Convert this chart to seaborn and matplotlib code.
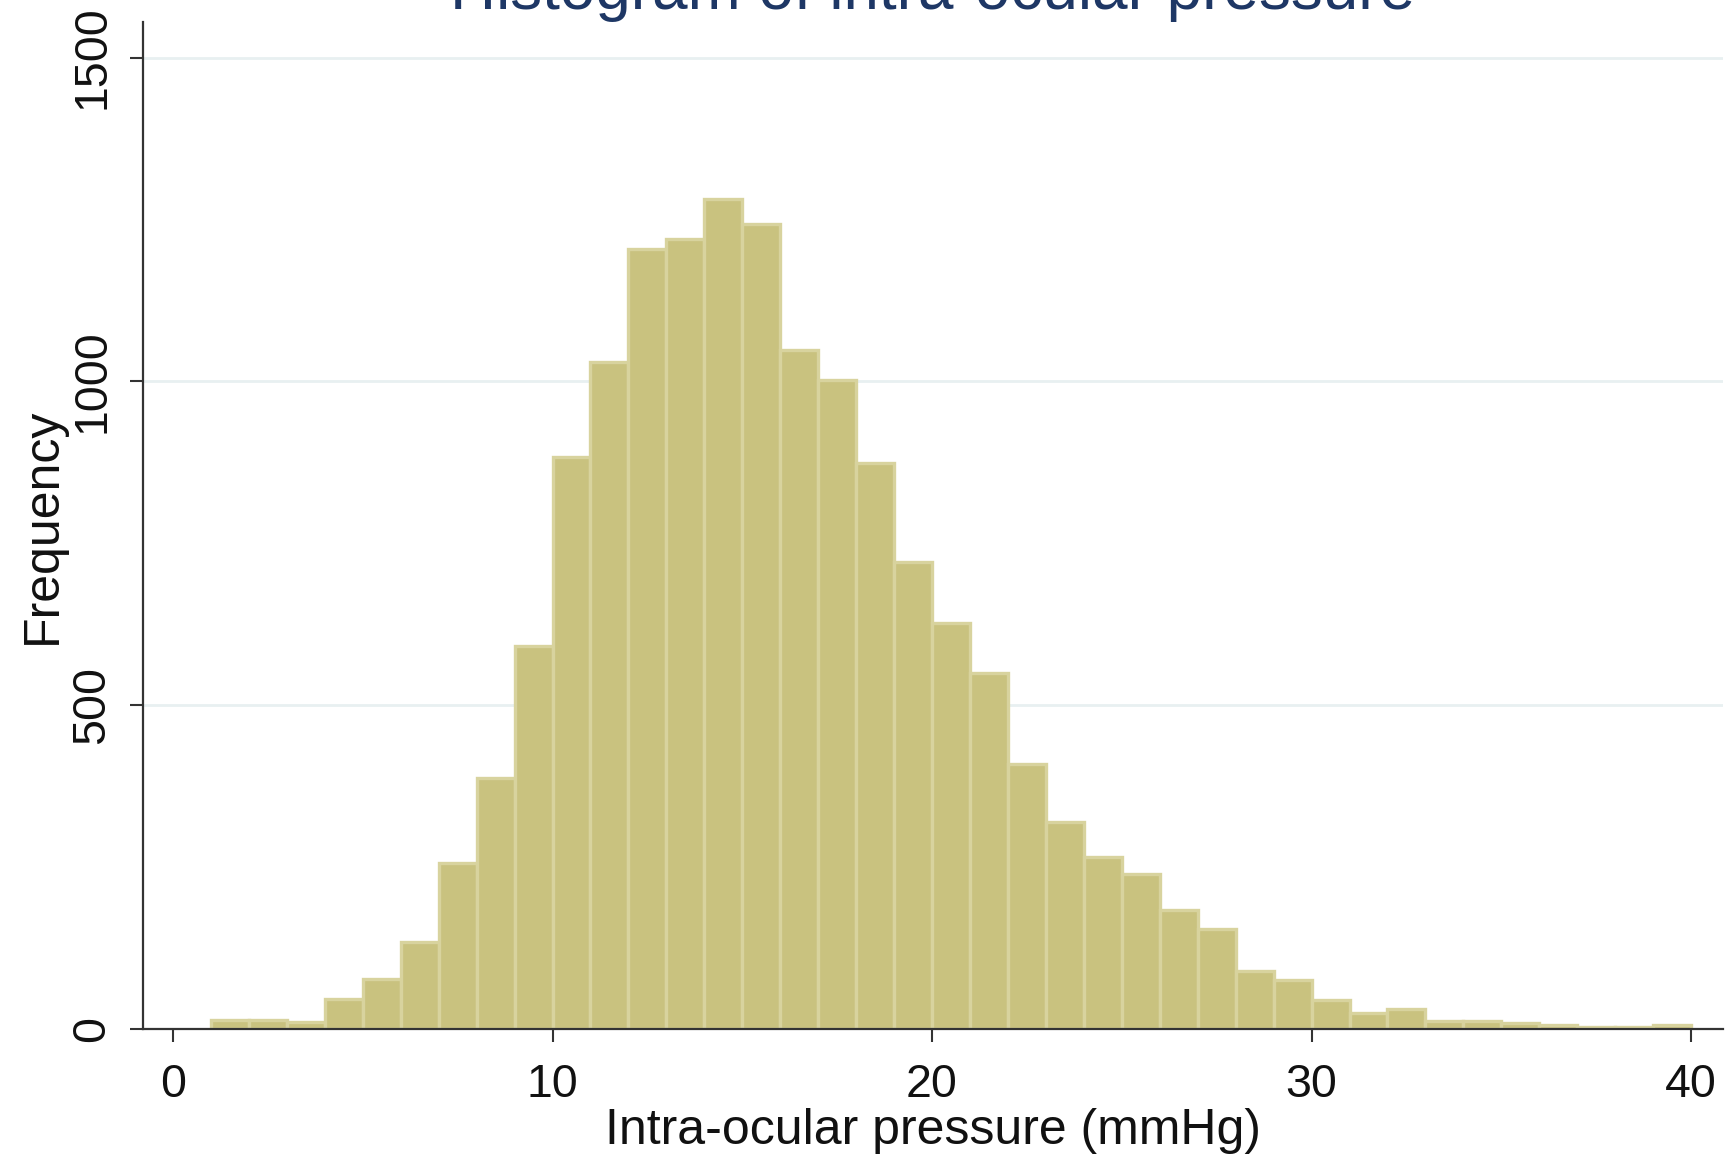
import matplotlib
matplotlib.use("Agg")
import matplotlib.pyplot as plt
import seaborn as sns
import numpy as np
import pandas as pd

# Data: bin edges (mmHg) and counts per 1-mmHg bin
bin_edges = list(range(1, 41))
counts = [14, 14, 11, 47, 77, 135, 257, 388, 591, 884,
          1030, 1204, 1220, 1281, 1243, 1049, 1002, 874, 721, 627,
          550, 409, 319, 266, 240, 184, 155, 89, 75, 45,
          24, 31, 12, 12, 9, 6, 3, 3, 6]
x_ticks = [0, 10, 20, 30, 40]
y_ticks = [0, 500, 1000, 1500]
title = "Histogram of intra-ocular pressure"
x_label = "Intra-ocular pressure (mmHg)"
y_label = "Frequency"

df = pd.DataFrame({
    "mid": [e + 0.5 for e in bin_edges[:-1]],
    "count": counts,
})

sns.set_theme(style="white")
plt.rcParams['font.family'] = ['Liberation Sans', 'DejaVu Sans']

fig = plt.figure(figsize=(17.3, 11.6), dpi=100)
ax = fig.add_axes([143/1730, 1 - 1029/1160, (1723-143)/1730, (1029-22)/1160])

sns.histplot(data=df, x="mid", weights="count", bins=bin_edges, ax=ax,
             color="#C9C27F", edgecolor="#D8D39E", linewidth=2.4, alpha=1)

ax.set_xlim(-0.79, 40.84)
ax.set_ylim(0, 1555)
ax.set_xticks(x_ticks)
ax.set_yticks(y_ticks)
ax.set_yticklabels([str(v) for v in y_ticks], rotation=90, va="center")
ax.yaxis.grid(True, color="#E8F0F1", linewidth=2)
ax.xaxis.grid(False)
ax.set_axisbelow(True)

for s in ["top", "right"]:
    ax.spines[s].set_visible(False)
for s in ["left", "bottom"]:
    ax.spines[s].set_color("#333333")
    ax.spines[s].set_linewidth(1.6)

ax.tick_params(axis="both", direction="out", length=9.5, width=1.5,
               color="#333333", labelsize=33.5, labelcolor="#111111",
               left=True, bottom=True)
ax.tick_params(axis="x", pad=15)
ax.tick_params(axis="y", pad=11)

ax.set_xlabel(x_label, fontsize=36, color="#111111", labelpad=1)
ax.set_ylabel(y_label, fontsize=36, color="#111111", labelpad=3)

fig.text(933/1730, 1 - 9/1160, title, ha="center", va="baseline",
         fontsize=46, color="#1E3765")

fig.savefig("out.png", dpi=100)
